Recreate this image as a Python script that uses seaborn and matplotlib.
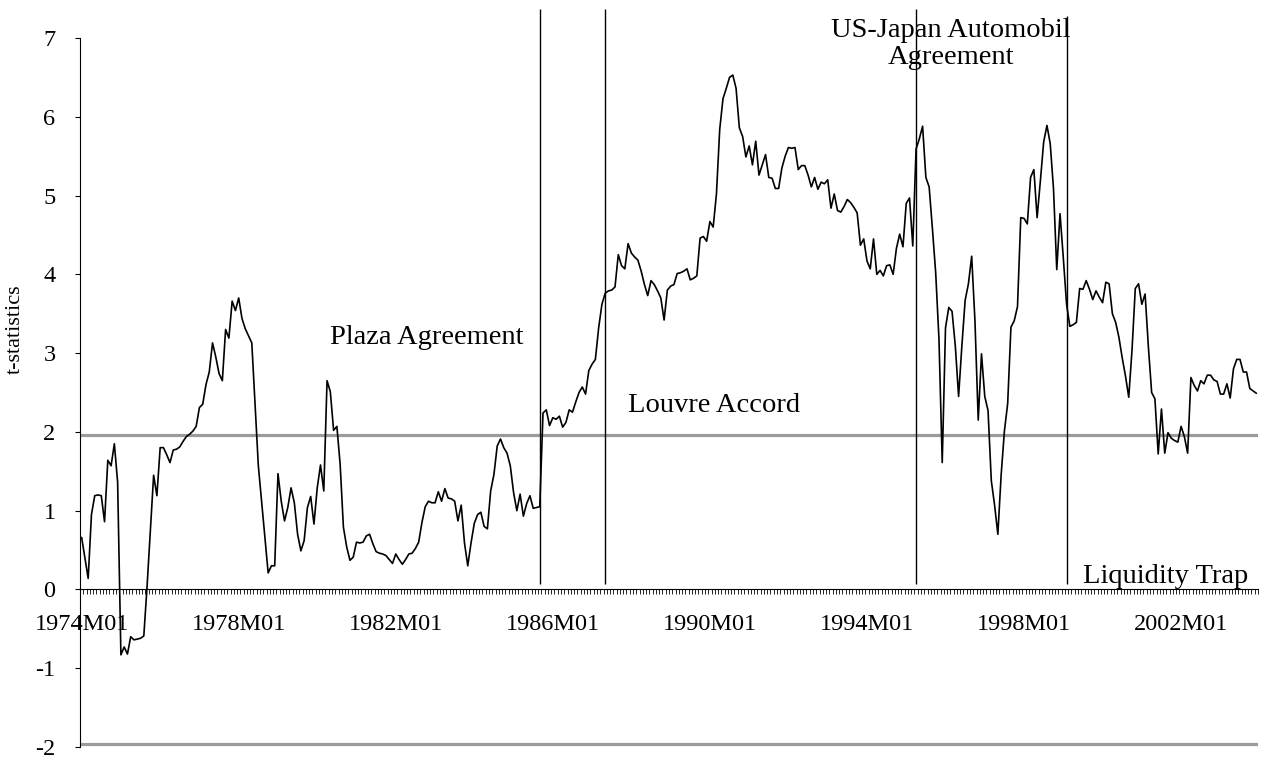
import numpy as np
import pandas as pd
import matplotlib
matplotlib.use("Agg")
import matplotlib.pyplot as plt
import seaborn as sns

# monthly categories 1974M01 .. 2003M12
months = [f"{y}M{m:02d}" for y in range(1974, 2004) for m in range(1, 13)]

# t-statistics, one row per year
tstats = [
    0.66, 0.40, 0.14, 0.95, 1.19, 1.20, 1.19, 0.86, 1.64, 1.57, 1.85, 1.36,
    -0.83, -0.73, -0.82, -0.60, -0.64, -0.63, -0.62, -0.59, 0.04, 0.75, 1.45, 1.19,
    1.80, 1.80, 1.71, 1.61, 1.77, 1.78, 1.81, 1.88, 1.94, 1.97, 2.01, 2.07,
    2.31, 2.35, 2.60, 2.76, 3.13, 2.95, 2.74, 2.65, 3.30, 3.19, 3.66, 3.54,
    3.70, 3.44, 3.31, 3.22, 3.13, 2.34, 1.57, 1.12, 0.66, 0.21, 0.30, 0.30,
    1.47, 1.12, 0.87, 1.04, 1.29, 1.10, 0.70, 0.49, 0.62, 1.04, 1.18, 0.83,
    1.29, 1.58, 1.25, 2.65, 2.51, 2.02, 2.07, 1.59, 0.79, 0.54, 0.37, 0.41,
    0.60, 0.59, 0.60, 0.68, 0.70, 0.58, 0.48, 0.46, 0.45, 0.43, 0.38, 0.33,
    0.45, 0.38, 0.32, 0.38, 0.45, 0.46, 0.52, 0.60, 0.85, 1.05, 1.12, 1.10,
    1.10, 1.24, 1.12, 1.28, 1.16, 1.15, 1.12, 0.87, 1.07, 0.59, 0.30, 0.59,
    0.84, 0.95, 0.98, 0.80, 0.77, 1.25, 1.46, 1.82, 1.91, 1.80, 1.73, 1.57,
    1.23, 1.00, 1.21, 0.93, 1.09, 1.19, 1.03, 1.04, 1.05, 2.24, 2.28, 2.08,
    2.18, 2.16, 2.20, 2.06, 2.12, 2.28, 2.25, 2.38, 2.50, 2.57, 2.48, 2.78,
    2.86, 2.92, 3.32, 3.62, 3.76, 3.79, 3.80, 3.84, 4.25, 4.11, 4.07, 4.39,
    4.27, 4.22, 4.18, 4.04, 3.87, 3.73, 3.92, 3.87, 3.79, 3.70, 3.42, 3.80,
    3.85, 3.87, 4.01, 4.02, 4.04, 4.07, 3.93, 3.95, 3.98, 4.46, 4.48, 4.42,
    4.67, 4.60, 5.02, 5.84, 6.23, 6.36, 6.50, 6.53, 6.36, 5.86, 5.75, 5.49,
    5.63, 5.39, 5.69, 5.26, 5.39, 5.52, 5.23, 5.22, 5.09, 5.09, 5.35, 5.50,
    5.61, 5.60, 5.61, 5.33, 5.38, 5.38, 5.26, 5.11, 5.23, 5.08, 5.17, 5.15,
    5.20, 4.84, 5.02, 4.81, 4.79, 4.86, 4.95, 4.91, 4.85, 4.78, 4.37, 4.45,
    4.17, 4.07, 4.45, 4.00, 4.05, 3.98, 4.11, 4.12, 4.00, 4.33, 4.51, 4.35,
    4.90, 4.97, 4.36, 5.59, 5.72, 5.88, 5.23, 5.11, 4.58, 4.02, 3.18, 1.61,
    3.32, 3.58, 3.53, 3.09, 2.45, 3.09, 3.67, 3.88, 4.23, 3.41, 2.15, 2.99,
    2.45, 2.27, 1.38, 1.07, 0.70, 1.45, 2.01, 2.36, 3.33, 3.41, 3.59, 4.72,
    4.71, 4.64, 5.23, 5.33, 4.72, 5.19, 5.68, 5.89, 5.66, 5.09, 4.06, 4.77,
    4.21, 3.62, 3.34, 3.36, 3.39, 3.82, 3.81, 3.92, 3.81, 3.68, 3.79, 3.71,
    3.64, 3.90, 3.88, 3.50, 3.39, 3.20, 2.94, 2.71, 2.44, 3.04, 3.82, 3.88,
    3.62, 3.75, 3.08, 2.50, 2.42, 1.72, 2.29, 1.73, 1.99, 1.92, 1.89, 1.87,
    2.07, 1.94, 1.73, 2.69, 2.59, 2.52, 2.65, 2.61, 2.72, 2.72, 2.66, 2.64,
    2.48, 2.48, 2.61, 2.43, 2.80, 2.92, 2.92, 2.76, 2.76, 2.55, 2.52, 2.49,
]

tick_labels = ["1974M01", "1978M01", "1982M01", "1986M01",
               "1990M01", "1994M01", "1998M01", "2002M01"]
y_ticks = [-2, -1, 0, 1, 2, 3, 4, 5, 6, 7]
critical = [1.96, -1.96]

event_names = ["Plaza Agreement", "Louvre Accord",
               "US-Japan Automobil\nAgreement", "Liquidity Trap"]
event_months = ["1985M09", "1987M05", "1995M04", "1999M02"]

df = pd.DataFrame({"idx": np.arange(len(tstats)), "tstat": tstats})

sns.set_theme(style="white")
plt.rcParams["font.family"] = ["Liberation Serif", "DejaVu Serif"]
plt.rcParams["axes.unicode_minus"] = False
plt.rcParams["text.color"] = "black"
plt.rcParams["axes.labelcolor"] = "black"
plt.rcParams["xtick.color"] = "black"
plt.rcParams["ytick.color"] = "black"

fig = plt.figure(figsize=(12.64, 7.6), dpi=100)
ax = fig.add_axes([80 / 1264, 13 / 760, 1178 / 1264, 709 / 760])

for c in critical:
    ax.axhline(c, color="#9b9b9b", linewidth=2.3, zorder=1)

sns.lineplot(data=df, x="idx", y="tstat", color="black", linewidth=1.2,
             ax=ax, zorder=3)

# event markers
tops = [7.37, 7.37, 7.37, 7.28]
for name, m, top in zip(event_names, event_months, tops):
    xi = months.index(m)
    ln = ax.vlines(xi, 0.07, top, color="black", linewidth=1.0, zorder=4)
    ln.set_clip_on(False)

fs_note = 20.5
ax.text(months.index("1980M05"), 3.2, event_names[0], fontsize=fs_note,
        ha="left", va="center", color="black")
ax.text(months.index("1987M12"), 2.33, event_names[1], fontsize=fs_note,
        ha="left", va="center", color="black")
ax.text(months.index("1996M03") - 0.3, 6.92, event_names[2], fontsize=fs_note,
        ha="center", va="center", multialignment="center", linespacing=1.12,
        color="black")
ax.text(months.index("1999M07"), 0.16, event_names[3], fontsize=fs_note,
        ha="left", va="center", color="black")

ax.set_xlim(-0.5, len(tstats) - 0.5)
ax.set_ylim(-2, 7)

ax.set_xticks(np.arange(-0.5, len(tstats) + 0.5, 1), minor=True)
ax.set_xticks([months.index(t) for t in tick_labels])
ax.set_xticklabels(tick_labels)
ax.tick_params(axis="x", which="major", length=0, pad=18, labelsize=17.5,
               labelcolor="black")
ax.tick_params(axis="x", which="minor", direction="out", length=3.6,
               width=0.6, color="black", bottom=True)

ax.set_yticks(y_ticks)
ax.set_yticklabels([str(v) for v in y_ticks])
ax.tick_params(axis="y", which="major", direction="out", length=3.6,
               width=0.8, color="black", pad=14, left=True, labelsize=17.5,
               labelcolor="black")

ax.set_xlabel("")
ax.set_ylabel("t-statistics", fontsize=16, color="black")
ax.yaxis.set_label_coords(-0.047, 0.59)

for s in ["top", "right"]:
    ax.spines[s].set_visible(False)
ax.spines["bottom"].set_position(("data", 0))
ax.spines["bottom"].set_color("black")
ax.spines["bottom"].set_linewidth(0.8)
ax.spines["left"].set_color("black")
ax.spines["left"].set_linewidth(0.8)
ax.spines["bottom"].set_zorder(2)

fig.savefig("out.png", dpi=100)
